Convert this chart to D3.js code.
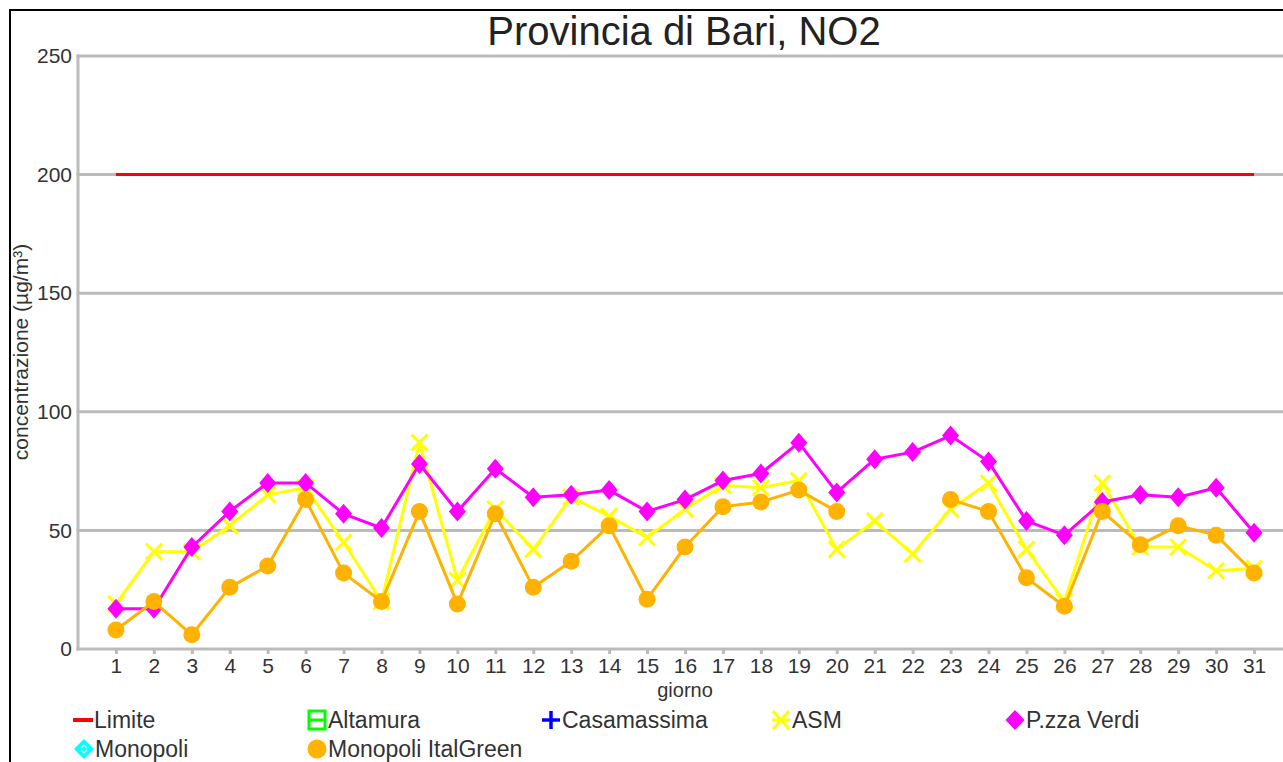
<!DOCTYPE html>
<html>
<head>
<meta charset="utf-8">
<script src="https://cdn.jsdelivr.net/npm/d3@7"></script>
<style>
  html, body { margin: 0; padding: 0; background: #fff; overflow: hidden; }
  text { font-family: "Liberation Sans", Arial, sans-serif; fill: #333; }
</style>
</head>
<body>
<div id="chart"></div>
<script>
/* --------------------------------------------------------------
DATI — Provincia di Bari, NO2 (µg/m³)
-------------------------------------------------------------- */

const days = ["1","2","3","4","5","6","7","8","9","10","11","12","13","14","15","16",
              "17","18","19","20","21","22","23","24","25","26","27","28","29","30","31"];

const limite = [200,200,200,200,200,200,200,200,200,200,200,200,200,200,200,200,
                200,200,200,200,200,200,200,200,200,200,200,200,200,200,200];

const altamura = [];
const casamassima = [];
const monopoli = [];

const asm = [19,41,41,52,65,68,45,20,87,29,59,42,64,56,47,59,
             69,68,71,42,54,40,59,70,42,20,70,43,43,33,34];

const pzzaVerdi = [17,17,43,58,70,70,57,51,78,58,76,64,65,67,58,63,
                   71,74,87,66,80,83,90,79,54,48,62,65,64,68,49];

const italGreen = [8,20,6,26,35,63,32,20,58,19,57,26,37,52,21,43,
                   60,62,67,58,null,null,63,58,30,18,58,44,52,48,32];

const yTicks = [0, 50, 100, 150, 200, 250];

/* --------------------------------------------------------------
SVG + SCALE
-------------------------------------------------------------- */

const width = 1283, height = 762;
const plot = { left: 78, right: 1292, top: 56, bottom: 649 };

const svg = d3.select("#chart").append("svg")
    .attr("width", width)
    .attr("height", height);

const x = d3.scalePoint().domain(days).range([plot.left, plot.right]).padding(1);
const y = d3.scaleLinear().domain([0, 250]).range([plot.bottom, plot.top]);

// cornice nera
svg.append("rect")
    .attr("x", 10).attr("y", 10)
    .attr("width", 1400).attr("height", 900)
    .attr("fill", "none")
    .attr("stroke", "#000")
    .attr("stroke-width", 2);

/* --------------------------------------------------------------
GRIGLIA E ASSI
-------------------------------------------------------------- */

const grid = svg.append("g");
grid.selectAll("line")
    .data(yTicks)
    .enter()
    .append("line")
    .attr("x1", plot.left - 1.5).attr("x2", plot.right)
    .attr("y1", d => y(d)).attr("y2", d => y(d))
    .attr("stroke", "#bbb")
    .attr("stroke-width", 3);

svg.append("line")
    .attr("x1", plot.left).attr("x2", plot.left)
    .attr("y1", plot.top - 1.5).attr("y2", plot.bottom + 1.5)
    .attr("stroke", "#bbb")
    .attr("stroke-width", 3);

const yAxis = d3.axisLeft(y).tickValues(yTicks).tickSize(0).tickPadding(6);
svg.append("g")
    .attr("transform", `translate(${plot.left},0)`)
    .call(yAxis)
    .call(g => g.select(".domain").remove())
    .selectAll("text")
    .attr("font-size", 21)
    .style("font-family", "Liberation Sans, Arial, sans-serif")
    .attr("fill", "#333");

const xAxis = d3.axisBottom(x).tickSize(5).tickPadding(4);
svg.append("g")
    .attr("transform", `translate(0,${plot.bottom})`)
    .call(xAxis)
    .call(g => g.select(".domain").remove())
    .call(g => g.selectAll("line").attr("stroke", "#bbb").attr("stroke-width", 3))
    .selectAll("text")
    .attr("font-size", 21)
    .style("font-family", "Liberation Sans, Arial, sans-serif")
    .attr("fill", "#333");

/* --------------------------------------------------------------
TITOLI
-------------------------------------------------------------- */

svg.append("text")
    .attr("x", 684).attr("y", 45)
    .attr("text-anchor", "middle")
    .attr("font-size", 40)
    .style("fill", "#222")
    .text("Provincia di Bari, NO2");

svg.append("text")
    .attr("transform", "translate(28,352) rotate(-90)")
    .attr("text-anchor", "middle")
    .attr("font-size", 21)
    .text("concentrazione (µg/m³)");

svg.append("text")
    .attr("x", 685).attr("y", 697)
    .attr("text-anchor", "middle")
    .attr("font-size", 20)
    .text("giorno");

/* --------------------------------------------------------------
MARCATORI
-------------------------------------------------------------- */

function diamondPath(w, h) {
    return `M0,${-h}L${w},0L0,${h}L${-w},0Z`;
}

function crossPath(s) {
    return `M${-s},${-s}L${s},${s}M${-s},${s}L${s},${-s}`;
}

/* --------------------------------------------------------------
SERIE
-------------------------------------------------------------- */

const series = [
    { name: "Limite", values: limite, color: "#ff0000", marker: "none" },
    { name: "ASM", values: asm, color: "#ffff00", marker: "cross" },
    { name: "P.zza Verdi", values: pzzaVerdi, color: "#ff00ff", marker: "diamond" },
    { name: "Monopoli ItalGreen", values: italGreen, color: "#ffb300", marker: "circle" }
];

const lineGen = d3.line()
    .defined(d => d.v !== null)
    .x(d => x(d.day))
    .y(d => y(d.v));

series.forEach(s => {
    const pts = s.values.map((v, i) => ({ day: days[i], v: v }));
    const g = svg.append("g");

    g.append("path")
        .datum(pts)
        .attr("d", lineGen)
        .attr("fill", "none")
        .attr("stroke", s.color)
        .attr("stroke-width", 3)
        .attr("stroke-linejoin", "round");

    const valid = pts.filter(d => d.v !== null);

    if (s.marker === "diamond") {
        g.selectAll("path.m").data(valid).enter().append("path")
            .attr("class", "m")
            .attr("transform", d => `translate(${x(d.day)},${y(d.v)})`)
            .attr("d", diamondPath(8.5, 10))
            .attr("fill", s.color);
    } else if (s.marker === "circle") {
        g.selectAll("circle").data(valid).enter().append("circle")
            .attr("cx", d => x(d.day))
            .attr("cy", d => y(d.v))
            .attr("r", 8.5)
            .attr("fill", s.color);
    } else if (s.marker === "cross") {
        g.selectAll("path.m").data(valid).enter().append("path")
            .attr("class", "m")
            .attr("transform", d => `translate(${x(d.day)},${y(d.v)})`)
            .attr("d", crossPath(8))
            .attr("fill", "none")
            .attr("stroke", s.color)
            .attr("stroke-width", 3);
    }
});

/* --------------------------------------------------------------
LEGENDA
-------------------------------------------------------------- */

const legend = svg.append("g");
const legendItems = [
    { name: "Limite", x: 83, y: 720, kind: "line", color: "#ff0000" },
    { name: "Altamura", x: 317, y: 720, kind: "square", color: "#00ff00" },
    { name: "Casamassima", x: 551, y: 720, kind: "plus", color: "#0000ff" },
    { name: "ASM", x: 781, y: 720, kind: "asterisk", color: "#ffff00" },
    { name: "P.zza Verdi", x: 1015, y: 720, kind: "diamond", color: "#ff00ff" },
    { name: "Monopoli", x: 84, y: 749, kind: "diamond2", color: "#00ffff" },
    { name: "Monopoli ItalGreen", x: 317, y: 749, kind: "circle", color: "#ffb300" }
];

legendItems.forEach(d => {
    const g = legend.append("g").attr("transform", `translate(${d.x},${d.y})`);
    if (d.kind === "line") {
        g.append("line").attr("x1", -10).attr("x2", 10)
            .attr("stroke", d.color).attr("stroke-width", 4);
    } else if (d.kind === "square") {
        g.append("rect").attr("x", -8).attr("y", -9).attr("width", 16).attr("height", 18)
            .attr("fill", "#fff").attr("stroke", d.color).attr("stroke-width", 3);
        g.append("line").attr("x1", -8).attr("x2", 8)
            .attr("stroke", d.color).attr("stroke-width", 3);
    } else if (d.kind === "plus") {
        g.append("path").attr("d", "M-9,0L9,0M0,-9L0,9")
            .attr("stroke", d.color).attr("stroke-width", 3.5);
    } else if (d.kind === "asterisk") {
        g.append("path").attr("d", "M-8,-9L8,9M-8,9L8,-9M-9,0L9,0")
            .attr("stroke", d.color).attr("stroke-width", 3);
    } else if (d.kind === "diamond") {
        g.append("path").attr("d", diamondPath(9.5, 10)).attr("fill", d.color);
    } else if (d.kind === "diamond2") {
        g.append("path").attr("d", diamondPath(10, 10)).attr("fill", d.color);
        g.append("path").attr("d", "M-3,-1L0,-4L3,-1M-3,1L0,4L3,1")
            .attr("fill", "none").attr("stroke", "#fff").attr("stroke-width", 1.2);
    } else if (d.kind === "circle") {
        g.append("circle").attr("r", 9.5).attr("fill", d.color);
    }
    legend.append("text")
        .attr("x", d.x + 11)
        .attr("y", d.y + 8)
        .attr("font-size", 23)
        .text(d.name);
});
</script>
</body>
</html>
